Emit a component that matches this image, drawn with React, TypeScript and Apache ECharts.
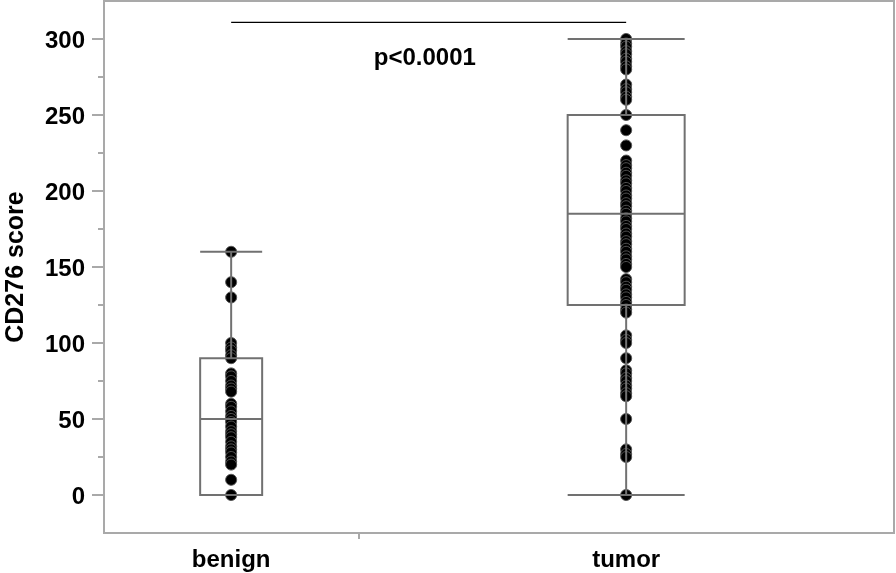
import React, { useEffect, useRef } from "react";
import * as echarts from "echarts";

const categories = ["benign", "tumor"];
// sample sizes (JMP draws each group's band proportional to its n)
const groupN = [47, 99];
// [min, Q1, median, Q3, max]
const boxStats = [
  [0, 0, 50, 90, 160],
  [0, 125, 185, 250, 300],
];
const benignScores = [
  160, 140, 130, 100, 97, 95, 92, 90, 80, 78, 75, 72, 70, 68, 60, 58, 55, 52,
  50, 48, 45, 42, 40, 38, 35, 32, 30, 28, 25, 22, 20, 10, 0,
];
const tumorScores = [
  300, 297, 295, 292, 290, 287, 285, 282, 280, 270, 267, 265, 262, 260, 250,
  240, 230, 220, 217, 215, 212, 210, 207, 205, 202, 200, 197, 195, 192, 190,
  187, 185, 182, 180, 177, 175, 172, 170, 167, 165, 162, 160, 157, 155, 152,
  150, 142, 140, 137, 135, 132, 130, 127, 125, 122, 120, 105, 102, 100, 90, 82,
  80, 77, 75, 72, 70, 67, 65, 50, 30, 27, 25, 0,
];
const yTicks = [0, 50, 100, 150, 200, 250, 300];
const yMinorTicks = [25, 75, 125, 175, 225, 275];
const yTitle = "CD276 score";
const pValueText = "p<0.0001";
const bracketValue = 311;
const pLabelValue = 288.5;

export default function App() {
  const ref = useRef<HTMLDivElement>(null);
  useEffect(() => {
    if (!ref.current) return;
    const chart = echarts.init(ref.current, null, { renderer: "svg" });
    const total = groupN.reduce((a, b) => a + b, 0);
    const bounds: number[] = [];
    const centers: number[] = [];
    let acc = 0;
    groupN.forEach((n) => {
      centers.push(acc + n / 2);
      acc += n;
      bounds.push(acc);
    });
    const boxHalfWidth = [31, 58.5];
    const font = "Liberation Sans";
    const gray = "#a9a9a9";
    const boxColor = "#717171";

    const boxData = boxStats.map((s, i) => [centers[i], ...s]);

    chart.setOption({
      animation: false,
      grid: {
        left: 104,
        right: 2,
        top: 1,
        bottom: 40,
        show: true,
        borderColor: gray,
        borderWidth: 2,
        backgroundColor: "#fff",
      },
      xAxis: {
        type: "value",
        min: 0,
        max: total,
        splitLine: { show: false },
        axisLine: { show: false, onZero: false },
        axisTick: {
          show: true,
          customValues: bounds.slice(0, -1),
          length: 6,
          lineStyle: { color: gray, width: 2 },
        },
        axisLabel: {
          customValues: centers,
          formatter: (v: number) => {
            const i = centers.findIndex((c) => Math.abs(c - v) < 1e-6);
            return i >= 0 ? categories[i] : "";
          },
          margin: 13,
          color: "#000",
          fontSize: 24,
          fontWeight: "bold",
          fontFamily: font,
        },
      },
      yAxis: [
        {
          type: "value",
          min: -25,
          max: 325,
          splitLine: { show: false },
          axisLine: { show: false, onZero: false },
          axisTick: {
            show: true,
            customValues: yTicks,
            length: 12,
            lineStyle: { color: gray, width: 2 },
          },
          axisLabel: {
            customValues: yTicks,
            margin: 19,
            color: "#000",
            fontSize: 24,
            fontWeight: "bold",
            fontFamily: font,
          },
        },
        {
          type: "value",
          min: -25,
          max: 325,
          position: "left",
          splitLine: { show: false },
          axisLine: { show: false, onZero: false },
          axisLabel: { show: false },
          axisTick: {
            show: true,
            customValues: yMinorTicks,
            length: 6,
            lineStyle: { color: gray, width: 2 },
          },
        },
      ],
      graphic: [
        {
          id: "ytitle",
          type: "text",
          x: 14,
          y: 267,
          rotation: Math.PI / 2,
          style: {
            text: yTitle,
            font: `bold 25px "${font}"`,
            fill: "#000",
            textAlign: "center",
            textVerticalAlign: "middle",
          },
        },
      ],
      series: [
        ...[benignScores, tumorScores].map((arr, i) => ({
          type: "scatter",
          z: 2,
          symbol: "circle",
          symbolSize: 11,
          itemStyle: {
            color: "#000",
            borderColor: "#555",
            borderWidth: 1,
            opacity: 1,
          },
          data: arr.map((v) => [centers[i], v]),
        })),
        {
          type: "custom",
          z: 3,
          data: boxData,
          encode: { x: 0, y: [1, 2, 3, 4, 5] },
          renderItem: (params: any, api: any) => {
            const x = api.value(0);
            const [cx, yMin] = api.coord([x, api.value(1)]);
            const yQ1 = api.coord([x, api.value(2)])[1];
            const yMed = api.coord([x, api.value(3)])[1];
            const yQ3 = api.coord([x, api.value(4)])[1];
            const yMax = api.coord([x, api.value(5)])[1];
            const hw = boxHalfWidth[params.dataIndex];
            const st = { stroke: boxColor, lineWidth: 2, fill: "none" };
            return {
              type: "group",
              children: [
                {
                  type: "rect",
                  shape: { x: cx - hw, y: yQ3, width: 2 * hw, height: yQ1 - yQ3 },
                  style: st,
                },
                { type: "line", shape: { x1: cx - hw, y1: yMed, x2: cx + hw, y2: yMed }, style: st },
                { type: "line", shape: { x1: cx, y1: yQ3, x2: cx, y2: yMax }, style: st },
                { type: "line", shape: { x1: cx, y1: yQ1, x2: cx, y2: yMin }, style: st },
                { type: "line", shape: { x1: cx - hw, y1: yMax, x2: cx + hw, y2: yMax }, style: st },
                { type: "line", shape: { x1: cx - hw, y1: yMin, x2: cx + hw, y2: yMin }, style: st },
              ],
            };
          },
        },
        {
          type: "line",
          z: 4,
          symbol: "none",
          lineStyle: { color: "#000", width: 1.2 },
          data: [
            [centers[0], bracketValue],
            [centers[1], bracketValue],
          ],
        },
      ],
    });
    const [px, py] = chart.convertToPixel({ gridIndex: 0 }, [
      (centers[0] + centers[1]) / 2 - 0.7,
      pLabelValue,
    ]) as number[];
    chart.setOption({
      graphic: [
        {
          id: "pval",
          type: "text",
          x: px,
          y: py,
          z: 10,
          style: {
            text: pValueText,
            font: `bold 24px "${font}"`,
            fill: "#000",
            textAlign: "center",
            textVerticalAlign: "middle",
          },
        },
      ],
    });
    return () => chart.dispose();
  }, []);
  return (
    <div
      ref={ref}
      style={{ position: "fixed", left: 0, top: 0, width: 896, height: 573 }}
    />
  );
}
